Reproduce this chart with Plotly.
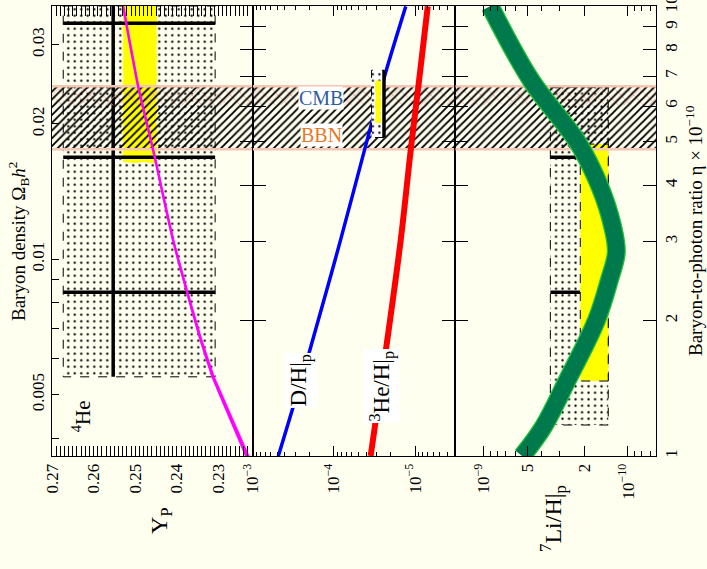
import numpy as np
import plotly.graph_objects as go

SERIF = "Liberation Serif"
BG = "#fffff0"

# ---------------- theory curves (eta in units of 1e-10) ----------------
he_eta = [10.0, 6.64, 4.79, 3.02, 2.31, 1.81, 1.50, 1.00]
he_yp = [0.2529, 0.2493, 0.2457, 0.2409, 0.2375, 0.2342, 0.2313, 0.2231]
he_err = [0.0002, 0.0002, 0.0002, 0.00022, 0.00025, 0.0003, 0.00036, 0.0005]

dh_eta = [10.0, 7.13, 5.50, 3.02, 1.677, 1.00]
dh = [1.30e-5, 2.30e-5, 3.42e-5, 8.27e-5, 2.05e-4, 4.82e-4]

he3_eta = [10.0, 6.84, 4.79, 3.02, 1.765, 1.00]
he3 = [6.97e-6, 8.92e-6, 1.13e-5, 1.50e-5, 2.24e-5, 3.52e-5]

li_eta = [10.0, 6.84, 4.96, 3.96, 3.26, 2.84, 2.46, 2.0, 1.475, 1.16, 1.0]
li = [8.99e-10, 4.68e-10, 2.21e-10, 1.56e-10, 1.284e-10, 1.205e-10,
      1.347e-10, 1.657e-10, 2.63e-10, 3.86e-10, 5.40e-10]

# ---------------- observational ranges ----------------
he_box_yp, he_box_eta = [0.2308, 0.2673], [1.50, 10.0]
he_yellow_yp, he_yellow_eta = [0.2449, 0.2529], [4.50, 10.0]
he_bar_yp = 0.2553
he_bar_eta = [9.17, 4.62, 2.314]

d_box_dh, d_box_eta = [2.41e-5, 3.43e-5], [5.11, 7.21]
d_yellow_dh, d_yellow_eta = [2.65e-5, 3.05e-5], [5.52, 6.84]

li_box_li, li_box_eta = [1.37e-10, 3.45e-10], [1.172, 6.61]
li_yellow_li, li_yellow_eta = [1.37e-10, 2.14e-10], [1.468, 4.94]
li_bar_li = [2.15e-10, 3.45e-10]
li_bar_eta = [4.62, 2.314]

# concordance bands
bbn_eta = [4.81, 6.64]
cmb_eta = [6.02, 6.64]

# ---------------- axes ----------------
yp_range = [0.27, 0.2218]
dh_range = [-3.0, -5.496]
li_range = [-8.804, -10.194]
eta_range = [0.0, 1.0008]
eta_ticks = [1, 2, 3, 4, 5, 6, 7, 8, 9, 10]
omega_ticks = [0.004, 0.005, 0.006, 0.007, 0.008, 0.009, 0.01, 0.02, 0.03]
omega_text = ["", "0.005", "", "", "", "", "0.01", "0.02", "0.03"]
ETA_PER_OMEGA = 273.9

yp_ticks = [0.23, 0.24, 0.25, 0.26, 0.27]
dh_ticks = [1e-3, 1e-4, 1e-5]
dh_text = ["10<sup>\u22123</sup>", "10<sup>\u22124</sup>", "10<sup>\u22125</sup>"]
li_ticks = [1e-9, 5e-10, 2e-10, 1e-10]
li_text = ["10<sup>\u22129</sup>", "5", "2", "10<sup>\u221210</sup>"]


def decade_minors(exps, skip=()):
    out = []
    for e in exps:
        for m in range(2, 10):
            if m not in skip:
                out.append(m * 10.0 ** e)
    return out


dh_minor = [v for v in decade_minors([-4, -5, -6]) if 10 ** -5.496 <= v <= 1e-3]
li_minor = [v for v in decade_minors([-10, -11], skip=(2, 5))
            if 10 ** -10.194 <= v <= 10 ** -8.804]

# panel edges in data units
p1_x = yp_range
p2_x = [10 ** dh_range[0], 10 ** dh_range[1]]
p3_x = [10 ** li_range[0], 10 ** li_range[1]]
eta_edges = [10 ** eta_range[0], 10 ** eta_range[1]]


def rect(x0, x1, y0, y1):
    return [x0, x1, x1, x0, x0], [y0, y0, y1, y1, y0]


fig = go.Figure()
panels = [("x", "y", p1_x), ("x2", "y2", p2_x), ("x3", "y3", p3_x)]


def add(tr, ax):
    tr.update(xaxis=ax[0], yaxis=ax[1], showlegend=False, hoverinfo="skip")
    fig.add_trace(tr)


def dotted_box(xr, yr, ax, bg="rgba(0,0,0,0)"):
    xs, ys = rect(xr[0], xr[1], yr[0], yr[1])
    add(go.Scatter(x=xs, y=ys, mode="lines", fill="toself", fillcolor=bg,
                   fillpattern=dict(shape=".", fgcolor="black", bgcolor=bg,
                                    size=6.5, solidity=0.1, fgopacity=1),
                   line=dict(color="black", width=1, dash="dash")), ax)


def yellow_box(xr, yr, ax, dashed=True):
    xs, ys = rect(xr[0], xr[1], yr[0], yr[1])
    add(go.Scatter(x=xs, y=ys, mode="lines", fill="toself", fillcolor="#ffff00",
                   line=dict(color="black" if dashed else "#ffff00", width=1,
                             dash="dash")), ax)


def seg(xs, ys, ax, color="black", width=3.5):
    add(go.Scatter(x=xs, y=ys, mode="lines",
                   line=dict(color=color, width=width)), ax)


# observational boxes (below the bands)
dotted_box(he_box_yp, [he_box_eta[0], eta_edges[1]], panels[0])
dotted_box(li_box_li, li_box_eta, panels[2])
yellow_box(he_yellow_yp, [he_yellow_eta[0], eta_edges[1]], panels[0], dashed=False)
yellow_box(li_yellow_li, li_yellow_eta, panels[2])

seg([he_bar_yp, he_bar_yp], [he_box_eta[0], eta_edges[1]], panels[0])
for e in he_bar_eta:
    seg(he_box_yp, [e, e], panels[0])
for e in li_bar_eta:
    seg(li_bar_li, [e, e], panels[2])

# BBN / CMB concordance bands across all panels
for ax in panels:
    xr = ax[2]
    xs, ys = rect(xr[0], xr[1], cmb_eta[0], cmb_eta[1])
    add(go.Scatter(x=xs, y=ys, mode="none", fill="toself",
                   fillcolor="rgba(0,0,0,0)",
                   fillpattern=dict(shape="x", fgcolor="#f0b4a0",
                                    bgcolor="rgba(0,0,0,0)", size=9,
                                    solidity=0.18, fgopacity=1)), ax)
    xs, ys = rect(xr[0], xr[1], bbn_eta[0], bbn_eta[1])
    add(go.Scatter(x=xs, y=ys, mode="none", fill="toself",
                   fillcolor="rgba(0,0,0,0)",
                   fillpattern=dict(shape="/", fgcolor="black",
                                    bgcolor="rgba(0,0,0,0)", size=5.5,
                                    solidity=0.34, fgopacity=1)), ax)
    for e in bbn_eta:
        seg([xr[0], xr[1]], [e, e], ax, color="#f6c6b4", width=2.5)

# theory curves
yp_lo = [v - e for v, e in zip(he_yp, he_err)]
yp_hi = [v + e for v, e in zip(he_yp, he_err)]
add(go.Scatter(x=yp_lo + yp_hi[::-1], y=he_eta + he_eta[::-1], mode="lines",
               fill="toself", fillcolor="#ff00ff",
               line=dict(color="#ff00ff", width=0.5)), panels[0])
add(go.Scatter(x=he_yp, y=he_eta, mode="lines",
               line=dict(color="#ff00ff", width=2.2, shape="spline")), panels[0])

add(go.Scatter(x=dh, y=dh_eta, mode="lines",
               line=dict(color="#0000ff", width=3.5, shape="spline")), panels[1])
add(go.Scatter(x=he3, y=he3_eta, mode="lines",
               line=dict(color="#ff0000", width=6, shape="spline")), panels[1])

add(go.Scatter(x=li, y=li_eta, mode="lines",
               line=dict(color="#22c43a", width=19, shape="spline")), panels[2])
add(go.Scatter(x=li, y=li_eta, mode="lines",
               line=dict(color="#007a4d", width=16.5, shape="spline")), panels[2])

# deuterium measurement box sits on top of the bands
dotted_box(d_box_dh, d_box_eta, panels[1], bg="white")
yellow_box(d_yellow_dh, d_yellow_eta, panels[1], dashed=False)
seg([d_box_dh[0], d_box_dh[0]], d_box_eta, panels[1], width=3.5)

# empty trace that realises the baryon-density axis
fig.add_trace(go.Scatter(x=[None], y=[None], xaxis="x", yaxis="y4",
                         showlegend=False, hoverinfo="skip"))

tickfont = dict(family=SERIF, size=17, color="black")
common_x = dict(showline=True, linecolor="black", linewidth=1, mirror="allticks",
                ticks="inside", tickcolor="black", ticklen=10, tickangle=-90,
                tickfont=tickfont, showgrid=False, zeroline=False, automargin=False)
common_y = dict(type="log", range=eta_range, tickmode="array", tickvals=eta_ticks,
                ticks="inside", ticklen=13, tickcolor="black", showline=True,
                linecolor="black", showgrid=False, zeroline=False, automargin=False)
d1, d2 = 200.6 / 604, 403.3 / 604

fig.update_layout(
    width=707, height=569,
    margin=dict(l=52, r=51, t=6, b=113, autoexpand=False),
    paper_bgcolor=BG, plot_bgcolor=BG,
    font=dict(family=SERIF, color="black"),
    xaxis=dict(domain=[0, d1], range=yp_range, anchor="y",
               tickmode="array", tickvals=yp_ticks,
               ticktext=[f"{v:.2f}" for v in yp_ticks],
               minor=dict(dtick=0.001, tick0=0.2, ticks="inside", ticklen=4,
                          tickcolor="black"),
               **common_x),
    xaxis2=dict(domain=[d1, d2], type="log", range=dh_range, anchor="y2",
                tickmode="array", tickvals=dh_ticks, ticktext=dh_text,
                minor=dict(tickmode="array", tickvals=dh_minor, ticks="inside",
                           ticklen=4, tickcolor="black"),
                **common_x),
    xaxis3=dict(domain=[d2, 1], type="log", range=li_range, anchor="y3",
                tickmode="array", tickvals=li_ticks, ticktext=li_text,
                minor=dict(tickmode="array", tickvals=li_minor, ticks="inside",
                           ticklen=5, tickcolor="black"),
                **common_x),
    yaxis=dict(domain=[0, 1], anchor="x", side="right", showticklabels=False,
               **common_y),
    yaxis2=dict(anchor="x2", matches="y", showticklabels=False, mirror="allticks",
                **common_y),
    yaxis3=dict(anchor="x3", matches="y", side="right",
                ticktext=[str(v) for v in eta_ticks], tickangle=-90,
                tickfont=tickfont, ticklabeloverflow="allow", mirror="allticks",
                **common_y),
    yaxis4=dict(type="log", overlaying="y", anchor="x", side="left",
                range=[np.log10(eta_edges[0] / ETA_PER_OMEGA),
                       np.log10(eta_edges[1] / ETA_PER_OMEGA)],
                tickmode="array", tickvals=omega_ticks, ticktext=omega_text,
                tickangle=-90, tickfont=tickfont,
                ticks="inside", ticklen=7, tickcolor="black", automargin=False,
                showline=True, linecolor="black", showgrid=False, zeroline=False),
)


def label(x, y, text, size, color="black", xref="paper", yref="paper", **kw):
    fig.add_annotation(x=x, y=y, xref=xref, yref=yref, text=text, showarrow=False,
                       xanchor="center", yanchor="middle",
                       font=dict(family=SERIF, size=size, color=color), **kw)


# labels inside the panels
label(0.2627, 0.089, "<sup>4</sup>He", 21, xref="x", yref="y", textangle=-90)
label(-3.589, 0.169, "D/H|<sub>p</sub>", 23, xref="x2", yref="y2", textangle=-90,
      bgcolor="white", borderpad=1)
label(-4.589, 0.156, "<sup>3</sup>He/H|<sub>p</sub>", 23, xref="x2", yref="y2",
      textangle=-90, bgcolor="white", borderpad=1)
label(-3.844, 0.7956, "CMB", 20, color="#2f5e9c", xref="x2", yref="y2",
      bgcolor="white", borderpad=0)
label(-3.844, 0.714, "BBN", 20, color="#e8791e", xref="x2", yref="y2",
      bgcolor="white", borderpad=0)

# axis titles
label((18 - 52) / 604, (456 - 242) / 450,
      "Baryon density \u03a9<sub>B</sub><i>h</i><sup>2</sup>", 19, textangle=-90)
label((694 - 52) / 604, (456 - 231) / 450,
      "Baryon-to-photon ratio \u03b7 \u00d7 10<sup>\u221210</sup>", 19, textangle=-90)
label((161 - 52) / 604, (456 - 521) / 450, "Y<sub>P</sub>", 24, textangle=-90)
label((553 - 52) / 604, (456 - 519) / 450, "<sup>7</sup>Li/H|<sub>p</sub>", 24,
      textangle=-90)

fig.write_html("out.html")
